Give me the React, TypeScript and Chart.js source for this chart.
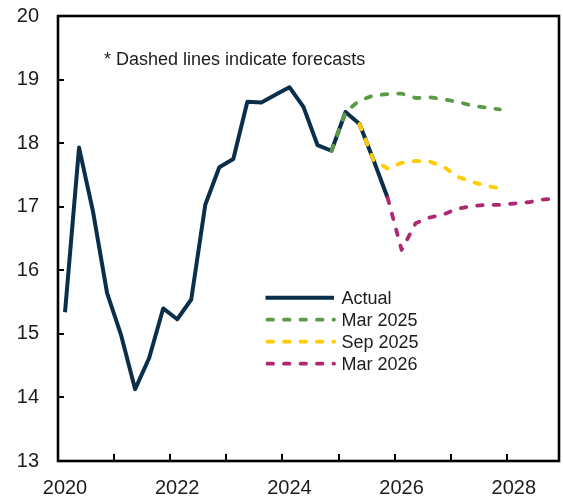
import React, { useEffect, useRef } from "react";
import { Chart, registerables } from "chart.js";

Chart.register(...registerables);

// Quarterly series, plotted at the middle of each quarter (decimal years).
const firstQuarter = 2020.125;
const quarterStep = 0.25;

// Actual: Mar 2020 quarter to Dec 2025 quarter
const actual = [
  15.34, 17.93, 16.92, 15.64, 14.98, 14.13, 14.62, 15.4, 15.23, 15.54, 17.03, 17.62,
  17.75, 18.65, 18.64, 18.76, 18.88, 18.57, 17.97, 17.88, 18.49, 18.3, 17.73, 17.14,
];

// Forecasts: index of the first quarter within the quarterly grid, then values
const mar2025Start = 19;
const mar2025 = [17.88, 18.49, 18.67, 18.75, 18.77, 18.78, 18.71, 18.72, 18.69, 18.65, 18.59, 18.56, 18.53];

const sep2025Start = 21;
const sep2025 = [18.3, 17.73, 17.6, 17.69, 17.72, 17.71, 17.63, 17.47, 17.39, 17.33, 17.29];

const mar2026Start = 23;
const mar2026 = [17.14, 16.32, 16.74, 16.83, 16.88, 16.97, 17.01, 17.03, 17.03, 17.05, 17.07, 17.11, 17.13];

const seriesNames = ["Actual", "Mar 2025", "Sep 2025", "Mar 2026"];
const xTickYears = [2020, 2021, 2022, 2023, 2024, 2025, 2026, 2027, 2028];
const xLabelYears = [2020, 2022, 2024, 2026, 2028];
const yMin = 13;
const yMax = 20;
const xMin = 2020;
const xMax = 2028.93;
const note = "* Dashed lines indicate forecasts";

const COLORS = {
  actual: "#0b2f4a",
  mar2025: "#5b9a46",
  sep2025: "#ffcc00",
  mar2026: "#b0286f",
  text: "#1c1c1c",
  frame: "#000000",
};

const FONT = "'Liberation Sans', Arial, Helvetica, sans-serif";
const DASH = [5.5, 11];

const toPoints = (start: number, values: number[]) =>
  values.map((v, i) => ({ x: firstQuarter + (start + i) * quarterStep, y: v }));

// Box frame, inward tick marks, note and in-plot legend
const decorations = {
  id: "decorations",
  afterDraw(chart: any) {
    const { ctx, chartArea, scales } = chart;
    const { left, top, right, bottom } = chartArea;
    const xs = scales.x;
    const ys = scales.y;
    ctx.save();

    ctx.strokeStyle = COLORS.frame;
    ctx.lineWidth = 2;
    ctx.lineCap = "butt";
    xs.ticks.forEach((t: any) => {
      if (t.value <= xs.min || t.value >= xs.max) return;
      const px = Math.round(xs.getPixelForValue(t.value));
      ctx.beginPath();
      ctx.moveTo(px, bottom);
      ctx.lineTo(px, bottom - 7);
      ctx.stroke();
    });
    ys.ticks.forEach((t: any) => {
      if (t.value <= ys.min || t.value >= ys.max) return;
      const py = Math.round(ys.getPixelForValue(t.value));
      ctx.beginPath();
      ctx.moveTo(left, py);
      ctx.lineTo(left + 6, py);
      ctx.stroke();
    });

    ctx.lineWidth = 2.6;
    ctx.strokeRect(left, top, right - left, bottom - top);

    // note
    ctx.fillStyle = COLORS.text;
    ctx.font = `18px ${FONT}`;
    ctx.textAlign = "left";
    ctx.textBaseline = "alphabetic";
    ctx.fillText(note, left + 46, top + 49);

    // legend
    const datasets = chart.data.datasets;
    const lx0 = left + 207.5;
    const lx1 = left + 276;
    const tx = left + 283.5;
    const rowY0 = top + 281.7;
    const rowGap = 22;
    datasets.forEach((ds: any, i: number) => {
      const yRow = rowY0 + i * rowGap;
      const dashed = ds.borderDash && ds.borderDash.length;
      ctx.beginPath();
      ctx.strokeStyle = ds.borderColor;
      ctx.lineWidth = ds.borderWidth;
      ctx.lineCap = dashed ? "round" : "butt";
      ctx.setLineDash(ds.borderDash || []);
      ctx.moveTo(lx0 + (dashed ? 2 : 0), yRow);
      ctx.lineTo(lx1, yRow);
      ctx.stroke();
      ctx.setLineDash([]);
      ctx.fillStyle = COLORS.text;
      ctx.fillText(ds.label, tx, yRow + 6.5);
    });
    ctx.restore();
  },
};

export default function App() {
  const canvasRef = useRef<HTMLCanvasElement | null>(null);

  useEffect(() => {
    if (!canvasRef.current) return;
    const forecastStyle = (color: string) => ({
      borderColor: color,
      backgroundColor: color,
      borderWidth: 3.8,
      borderDash: DASH,
      borderCapStyle: "round" as const,
      borderJoinStyle: "round" as const,
      pointRadius: 0,
      tension: 0,
      fill: false,
    });

    const chart = new Chart(canvasRef.current, {
      type: "line",
      data: {
        datasets: [
          {
            label: seriesNames[0],
            data: toPoints(0, actual),
            borderColor: COLORS.actual,
            backgroundColor: COLORS.actual,
            borderWidth: 4,
            borderJoinStyle: "round",
            pointRadius: 0,
            tension: 0,
            fill: false,
            order: 4,
          },
          { label: seriesNames[1], data: toPoints(mar2025Start, mar2025), ...forecastStyle(COLORS.mar2025), order: 3 },
          { label: seriesNames[2], data: toPoints(sep2025Start, sep2025), ...forecastStyle(COLORS.sep2025), order: 2 },
          { label: seriesNames[3], data: toPoints(mar2026Start, mar2026), ...forecastStyle(COLORS.mar2026), order: 1 },
        ],
      },
      options: {
        responsive: false,
        animation: false,
        layout: { padding: { top: 16, right: 4, left: 0, bottom: 0 } },
        plugins: {
          legend: { display: false },
          tooltip: { enabled: false },
        },
        scales: {
          x: {
            type: "linear",
            min: xMin,
            max: xMax,
            grid: { display: false, drawTicks: false },
            border: { display: false },
            afterBuildTicks: (scale: any) => {
              scale.ticks = xTickYears.map((v) => ({ value: v }));
            },
            afterFit: (scale: any) => {
              scale.height = 40;
              scale.paddingLeft = 0;
              scale.paddingRight = 0;
            },
            ticks: {
              autoSkip: false,
              maxRotation: 0,
              minRotation: 0,
              padding: 15,
              labelOffset: 7,
              color: COLORS.text,
              font: { family: FONT, size: 20 },
              callback: (v: any) => (xLabelYears.includes(Number(v)) ? String(v) : ""),
            },
          },
          y: {
            min: yMin,
            max: yMax,
            grid: { display: false, drawTicks: false },
            border: { display: false },
            afterFit: (scale: any) => {
              scale.width = 58;
              scale.paddingTop = 0;
              scale.paddingBottom = 0;
            },
            ticks: {
              stepSize: 1,
              padding: 19,
              color: COLORS.text,
              font: { family: FONT, size: 20 },
            },
          },
        },
      },
      plugins: [decorations],
    });
    return () => chart.destroy();
  }, []);

  return (
    <div style={{ position: "fixed", left: 0, top: 0, width: 563, height: 501, background: "#fff" }}>
      <canvas ref={canvasRef} width={563} height={501} style={{ display: "block" }} />
    </div>
  );
}
